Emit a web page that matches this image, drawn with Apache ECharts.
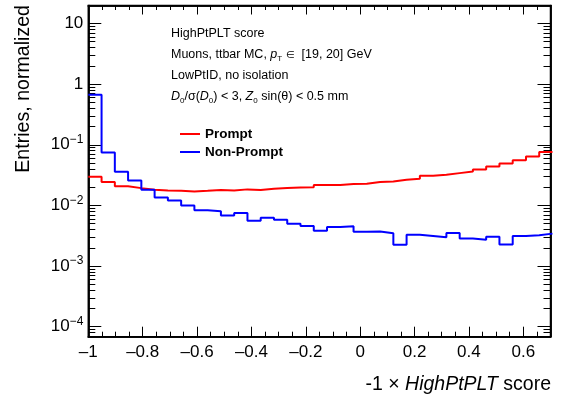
<!DOCTYPE html>
<html>
<head>
<meta charset="utf-8">
<script src="https://cdn.jsdelivr.net/npm/echarts@6/dist/echarts.min.js"></script>
<style>
  html, body { margin: 0; padding: 0; background: #fff; }
  #chart { width: 561px; height: 399px; }
</style>
</head>
<body>
<div id="chart"></div>
<script>
// Histogram binning: 41 bins over [-1, 1], shown up to 0.7
const binEdges = [
  -1.0000, -0.9512, -0.9024, -0.8537, -0.8049, -0.7561, -0.7073, -0.6585, -0.6098,
  -0.5610, -0.5122, -0.4634, -0.4146, -0.3659, -0.3171, -0.2683, -0.2195, -0.1707,
  -0.1220, -0.0732, -0.0244, 0.0244, 0.0732, 0.1220, 0.1707, 0.2195, 0.2683,
  0.3171, 0.3659, 0.4146, 0.4634, 0.5122, 0.5610, 0.6098, 0.6585, 0.7073
];

// Normalised bin contents
const promptVals = [
  0.0298, 0.0244, 0.0208, 0.0193, 0.0181, 0.0177, 0.0174, 0.0170, 0.0174,
  0.0179, 0.0177, 0.0184, 0.0179, 0.0188, 0.0193, 0.0198, 0.0200, 0.0217,
  0.0217, 0.0225, 0.0227, 0.0243, 0.0248, 0.0266, 0.0275, 0.0308, 0.0320,
  0.0341, 0.0362, 0.0391, 0.0438, 0.0490, 0.0558, 0.0640, 0.0763
];
const nonPromptVals = [
  0.670, 0.0745, 0.0360, 0.0258, 0.0181, 0.0135, 0.0121, 0.0100, 0.0083,
  0.0080, 0.00685, 0.0075, 0.0056, 0.00628, 0.00582, 0.0050, 0.00458, 0.00384,
  0.0044, 0.00452, 0.00369, 0.00373, 0.00347, 0.00224, 0.0033, 0.00314, 0.00298,
  0.00351, 0.00286, 0.00273, 0.00305, 0.00226, 0.00314, 0.00322, 0.00343
];

// Axis ticks
const xTickLabels = [-1, -0.8, -0.6, -0.4, -0.2, 0, 0.2, 0.4, 0.6];
const xMinorTicks = [
  -0.95, -0.9, -0.85, -0.75, -0.7, -0.65, -0.55, -0.5, -0.45, -0.35, -0.3, -0.25,
  -0.15, -0.1, -0.05, 0.05, 0.1, 0.15, 0.25, 0.3, 0.35, 0.45, 0.5, 0.55, 0.65
];
const yDecades = [1e-4, 1e-3, 1e-2, 1e-1, 1, 10];
const xRange = [-1, 0.7];
const yRange = [6.85e-5, 19.8];

const yMinorTicks = [];
[1e-5, 1e-4, 1e-3, 1e-2, 1e-1, 1, 10].forEach(function (d) {
  for (let m = 2; m <= 9; m++) yMinorTicks.push(+(m * d).toPrecision(3));
});

function stepPoints(vals) {
  const pts = [];
  vals.forEach(function (v, i) {
    pts.push([binEdges[i], v]);
    pts.push([binEdges[i + 1], v]);
  });
  return pts;
}

const FONT = "'Liberation Sans', Arial, Helvetica, sans-serif";

function xAxisDef(position, ticks, len, withLabels) {
  return {
    type: 'value', position: position, min: xRange[0], max: xRange[1],
    axisLine: { show: true, onZero: false, lineStyle: { color: '#000', width: 1.5 } },
    axisTick: { show: true, inside: true, length: len, customValues: ticks,
                lineStyle: { color: '#000', width: 1 } },
    axisLabel: withLabels ? {
      show: true, customValues: xTickLabels, margin: 7, color: '#000',
      fontFamily: FONT, fontSize: 17,
      formatter: function (v) {
        const r = Math.round(v * 10) / 10;
        if (r === 0) return '0';
        return (r < 0 ? '\u2013' : '') + String(Math.abs(r));
      }
    } : { show: false },
    splitLine: { show: false }
  };
}

function yAxisDef(position, ticks, len, withLabels) {
  return {
    type: 'log', logBase: 10, position: position, min: yRange[0], max: yRange[1],
    axisLine: { show: true, onZero: false, lineStyle: { color: '#000', width: 1.5 } },
    axisTick: { show: true, inside: true, length: len, customValues: ticks,
                lineStyle: { color: '#000', width: 1 } },
    axisLabel: withLabels ? {
      show: true, customValues: yDecades, margin: 5, color: '#000',
      fontFamily: FONT, fontSize: 17,
      formatter: function (v) {
        const e = Math.round(Math.log10(v));
        if (e === 0) return '1';
        if (e === 1) return '10';
        return '10{sup|\u2212' + (-e) + '}';
      },
      rich: { sup: { fontFamily: FONT, fontSize: 12, color: '#000', padding: [0, 0, 10, 0] } }
    } : { show: false },
    splitLine: { show: false },
    minorTick: { show: false }
  };
}

const chart = echarts.init(document.getElementById('chart'), null, { renderer: 'canvas' });

chart.setOption({
  animation: false,
  backgroundColor: '#fff',
  grid: {
    left: 88.3, right: 10.5, top: 5.5, bottom: 62.3,
    show: true, borderColor: '#000', borderWidth: 1.5, backgroundColor: 'transparent'
  },
  xAxis: [
    xAxisDef('bottom', xTickLabels, 10, true),
    xAxisDef('bottom', xMinorTicks, 5, false),
    xAxisDef('top', xTickLabels, 9, false),
    xAxisDef('top', xMinorTicks, 4.5, false)
  ],
  yAxis: [
    yAxisDef('left', yDecades, 13, true),
    yAxisDef('left', yMinorTicks, 7, false),
    yAxisDef('right', yDecades, 13, false),
    yAxisDef('right', yMinorTicks, 7, false)
  ],
  legend: {
    orient: 'vertical', left: 175, top: 122,
    icon: 'rect', itemWidth: 20, itemHeight: 2, itemGap: 4,
    textStyle: { fontFamily: FONT, fontSize: 13.5, fontWeight: 'bold', color: '#000' },
    data: ['Prompt', 'Non-Prompt']
  },
  series: [
    {
      name: 'Prompt', type: 'line', xAxisIndex: 0, yAxisIndex: 0,
      data: stepPoints(promptVals), symbol: 'none', showSymbol: false, clip: true,
      lineStyle: { color: '#ff0000', width: 2 }, itemStyle: { color: '#ff0000' }
    },
    {
      name: 'Non-Prompt', type: 'line', xAxisIndex: 0, yAxisIndex: 0,
      data: stepPoints(nonPromptVals), symbol: 'none', showSymbol: false, clip: true,
      lineStyle: { color: '#0000ff', width: 2 }, itemStyle: { color: '#0000ff' }
    }
  ],
  graphic: [
    {
      type: 'text', x: 171, y: 34,
      style: { text: 'HighPtPLT score', fontFamily: FONT, fontSize: 12.5, fill: '#000',
               align: 'left', verticalAlign: 'middle' }
    },
    {
      type: 'text', x: 171, y: 55,
      style: {
        text: 'Muons, ttbar MC, {it|p}{sub|T} {sym|\u2208}  [19, 20] GeV',
        fontFamily: FONT, fontSize: 12.5, fill: '#000', align: 'left', verticalAlign: 'middle',
        rich: {
          it: { fontFamily: FONT, fontSize: 12.5, fontStyle: 'italic', fill: '#000' },
          sym: { fontFamily: FONT, fontSize: 10, fill: '#000' },
          sub: { fontFamily: FONT, fontSize: 8, fill: '#000', padding: [8, 0, 0, 0] }
        }
      }
    },
    {
      type: 'text', x: 171, y: 76,
      style: { text: 'LowPtID, no isolation', fontFamily: FONT, fontSize: 12.5, fill: '#000',
               align: 'left', verticalAlign: 'middle' }
    },
    {
      type: 'text', x: 171, y: 97,
      style: {
        text: '{it|D}{sub|0}/\u03c3({it|D}{sub|0}) < 3, {it|Z}{sub|0} sin(\u03b8) < 0.5 mm',
        fontFamily: FONT, fontSize: 12.5, fill: '#000', align: 'left', verticalAlign: 'middle',
        rich: {
          it: { fontFamily: FONT, fontSize: 12.5, fontStyle: 'italic', fill: '#000' },
          sub: { fontFamily: FONT, fontSize: 8, fill: '#000', padding: [8, 0, 0, 0] }
        }
      }
    },
    {
      type: 'text', x: 551, y: 385,
      style: {
        text: '-1 \u00d7 {it|HighPtPLT} score',
        fontFamily: FONT, fontSize: 19.5, fill: '#000', align: 'right', verticalAlign: 'middle',
        rich: { it: { fontFamily: FONT, fontSize: 19.5, fontStyle: 'italic', fill: '#000' } }
      }
    },
    {
      type: 'text', x: 24, y: 5, rotation: Math.PI / 2,
      style: { text: 'Entries, normalized', fontFamily: FONT, fontSize: 19.6, fill: '#000',
               align: 'right', verticalAlign: 'middle' }
    }
  ]
});
</script>
</body>
</html>
